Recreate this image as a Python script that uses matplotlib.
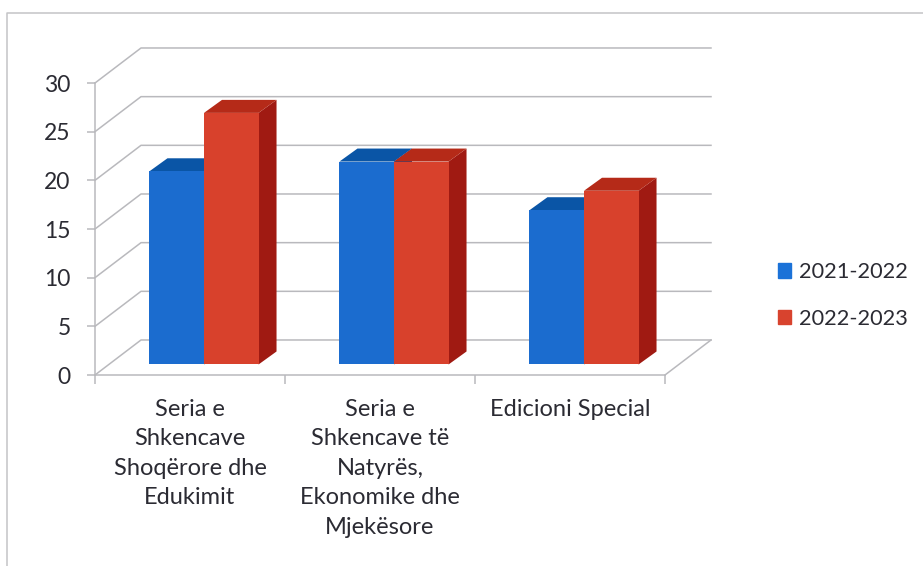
# Standard
import matplotlib
matplotlib.use("Agg")
import matplotlib.pyplot as plt
from matplotlib.patches import Patch, Polygon

categories = [
    "Seria e\nShkencave\nShoqërore dhe\nEdukimit",
    "Seria e\nShkencave të\nNatyrës,\nEkonomike dhe\nMjekësore",
    "Edicioni Special",
]
values_2021 = [20, 21, 16]
values_2022 = [26, 21, 18]
series_names = ["2021-2022", "2022-2023"]
y_ticks = [0, 5, 10, 15, 20, 25, 30]

plt.rcParams["font.family"] = ["Lato", "DejaVu Sans"]
text_color = "#2b2b33"
grid_color = "#b9b9bd"

W, H = 923, 566
fig = plt.figure(figsize=(W / 100, H / 100), dpi=100, facecolor="white")
ax = fig.add_axes([95 / W, 1 - 375 / H, 570 / W, 292 / H])
ax.set_xlim(0, 3)
ax.set_ylim(0, 30)
ax.patch.set_visible(False)

# depth of the fake 3d box, in data units
depth_x = 46 / 190
depth_y = 35 / 9.73
# bars stand part way into the box
bar_x = 14 / 190
bar_y = 10.5 / 9.73
side_x = 18 / 190
side_y = 13 / 9.73
gap = 0.213
width = 0.287

# back wall and floor
for v in y_ticks:
    ax.plot([0, depth_x, 3 + depth_x], [v, v + depth_y, v + depth_y],
            color=grid_color, lw=1.1, clip_on=False, zorder=1)
ax.plot([3, 3 + depth_x], [0, depth_y], color=grid_color, lw=1.1, clip_on=False, zorder=1)


def draw_bar(x, v, front, top, side):
    x0 = x + bar_x
    x1 = x0 + width
    b = bar_y
    t = v + bar_y - 0.15
    pts_side = [(x1, b), (x1 + side_x, b + side_y), (x1 + side_x, t + side_y), (x1, t)]
    pts_top = [(x0, t), (x0 + side_x, t + side_y), (x1 + side_x, t + side_y), (x1, t)]
    pts_front = [(x0, b), (x1, b), (x1, t), (x0, t)]
    ax.add_patch(Polygon(pts_side, color=side, lw=0, clip_on=False, zorder=2))
    ax.add_patch(Polygon(pts_top, color=top, lw=0, clip_on=False, zorder=2))
    ax.add_patch(Polygon(pts_front, color=front, lw=0, clip_on=False, zorder=2))


for i in range(len(categories)):
    draw_bar(i + gap, values_2021[i], "#1b6ccf", "#0a55a6", "#0c4a90")
    draw_bar(i + gap + width, values_2022[i], "#d8412c", "#b52a18", "#a01a12")

# axes
for s in ["top", "right"]:
    ax.spines[s].set_visible(False)
for s in ["left", "bottom"]:
    ax.spines[s].set_color(grid_color)
    ax.spines[s].set_linewidth(1.1)

ax.set_yticks(y_ticks)
ax.tick_params(axis="y", length=6, width=1.1, color=grid_color, pad=11.5,
               labelsize=16.5, labelcolor=text_color)
ax.set_xticks([0, 1, 2, 3])
ax.set_xticklabels([])
ax.tick_params(axis="x", which="major", length=6.5, width=1.1, color=grid_color)
ax.set_xticks([0.5, 1.5, 2.5], minor=True)
ax.set_xticklabels(categories, minor=True, fontsize=17, color=text_color,
                   linespacing=1.5, ha="center")
ax.tick_params(axis="x", which="minor", length=0, pad=17)

# legend
handles = [Patch(color="#1b72d8"), Patch(color="#d8432e")]
fig.legend(handles, series_names, loc="center left", bbox_to_anchor=(758 / W, 1 - 295.5 / H),
           frameon=False, fontsize=15.7, labelcolor=text_color, handlelength=0.62,
           handleheight=0.62, handletextpad=0.36, labelspacing=1.22)

# outer frame, only top and left show
fig.add_artist(plt.Line2D([7 / W, 7 / W, 1], [0, 1 - 13 / H, 1 - 13 / H],
                          color="#c4c4c6", lw=1.1))

fig.savefig("out.png", dpi=100)
